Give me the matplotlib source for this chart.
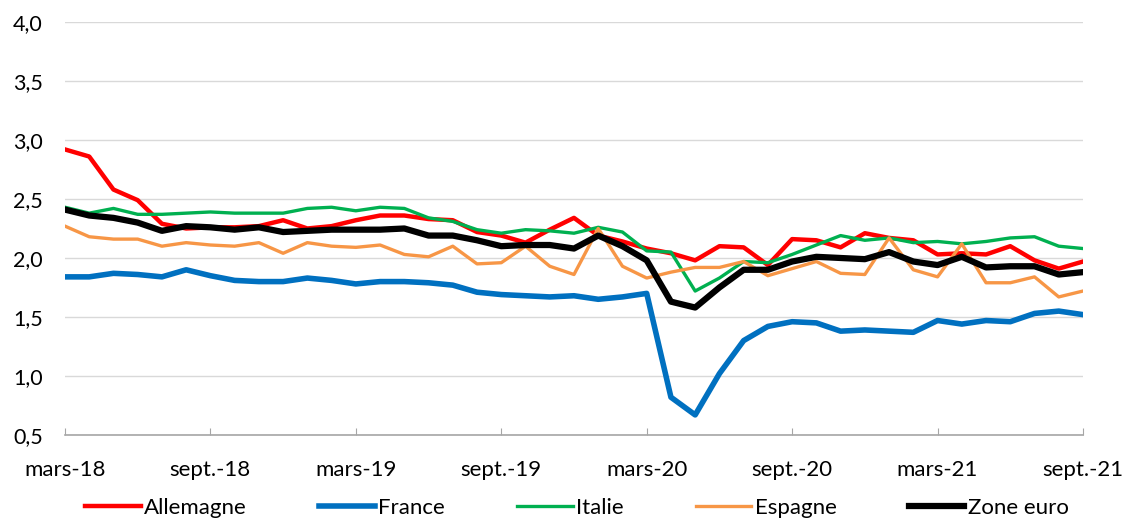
import matplotlib
matplotlib.use("Agg")
import matplotlib.pyplot as plt
import numpy as np

plt.rcParams['font.family'] = ['Lato', 'DejaVu Sans']

# monthly series, mars-18 .. sept.-21
allemagne = [2.92, 2.86, 2.58, 2.49, 2.29, 2.25, 2.26, 2.26, 2.27, 2.32, 2.25, 2.27, 2.32, 2.36,
             2.36, 2.33, 2.32, 2.22, 2.19, 2.13, 2.24, 2.34, 2.19, 2.14, 2.08, 2.04, 1.98, 2.10,
             2.09, 1.94, 2.16, 2.15, 2.09, 2.21, 2.17, 2.15, 2.03, 2.04, 2.03, 2.10, 1.98, 1.91, 1.97]
france = [1.84, 1.84, 1.87, 1.86, 1.84, 1.90, 1.85, 1.81, 1.80, 1.80, 1.83, 1.81, 1.78, 1.80,
          1.80, 1.79, 1.77, 1.71, 1.69, 1.68, 1.67, 1.68, 1.65, 1.67, 1.70, 0.82, 0.67, 1.02,
          1.30, 1.42, 1.46, 1.45, 1.38, 1.39, 1.38, 1.37, 1.47, 1.44, 1.47, 1.46, 1.53, 1.55, 1.52]
italie = [2.43, 2.38, 2.42, 2.37, 2.37, 2.38, 2.39, 2.38, 2.38, 2.38, 2.42, 2.43, 2.40, 2.43,
          2.42, 2.34, 2.31, 2.24, 2.21, 2.24, 2.23, 2.21, 2.26, 2.22, 2.06, 2.05, 1.72, 1.83,
          1.97, 1.96, 2.03, 2.11, 2.19, 2.15, 2.17, 2.13, 2.14, 2.12, 2.14, 2.17, 2.18, 2.10, 2.08]
espagne = [2.27, 2.18, 2.16, 2.16, 2.10, 2.13, 2.11, 2.10, 2.13, 2.04, 2.13, 2.10, 2.09, 2.11,
           2.03, 2.01, 2.10, 1.95, 1.96, 2.10, 1.93, 1.86, 2.25, 1.93, 1.83, 1.88, 1.92, 1.92,
           1.97, 1.85, 1.91, 1.97, 1.87, 1.86, 2.17, 1.90, 1.84, 2.12, 1.79, 1.79, 1.84, 1.67, 1.72]
zone_euro = [2.41, 2.36, 2.34, 2.30, 2.23, 2.27, 2.26, 2.24, 2.26, 2.22, 2.23, 2.24, 2.24, 2.24,
             2.25, 2.19, 2.19, 2.15, 2.10, 2.11, 2.11, 2.08, 2.19, 2.10, 1.98, 1.63, 1.58, 1.75,
             1.90, 1.90, 1.97, 2.01, 2.00, 1.99, 2.05, 1.97, 1.94, 2.01, 1.92, 1.93, 1.93, 1.86, 1.88]

tick_labels = ["mars-18", "sept.-18", "mars-19", "sept.-19",
               "mars-20", "sept.-20", "mars-21", "sept.-21"]
y_ticks = [0.5, 1.0, 1.5, 2.0, 2.5, 3.0, 3.5, 4.0]

months = np.arange(len(allemagne))

fig = plt.figure(figsize=(11.28, 5.2), dpi=100)
ax = fig.add_axes([0.0576, 0.1635, 0.9025, 0.7942])

ax.plot(months, allemagne, color="#FF0000", lw=3.2, label="Allemagne")
ax.plot(months, france, color="#0070C0", lw=4.0, label="France")
ax.plot(months, italie, color="#00B050", lw=2.4, label="Italie")
ax.plot(months, espagne, color="#F79646", lw=2.4, label="Espagne")
ax.plot(months, zone_euro, color="#000000", lw=4.5, label="Zone euro")

ax.set_xlim(0, len(allemagne) - 1)
ax.set_ylim(0.5, 4.0)
ax.set_yticks(y_ticks)
ax.set_yticklabels([f"{v:.1f}".replace(".", ",") for v in y_ticks])
ax.set_xticks(months[::6])
ax.set_xticklabels(tick_labels)

ax.grid(axis="y", color="#D9D9D9", lw=1)
ax.set_axisbelow(True)
for s in ["left", "right", "top"]:
    ax.spines[s].set_visible(False)
ax.spines["bottom"].set_color("#A6A6A6")
ax.spines["bottom"].set_linewidth(1.2)

ax.tick_params(axis="y", length=0, pad=16, labelsize=15.5)
ax.tick_params(axis="x", direction="in", length=5, color="#A6A6A6", pad=18, labelsize=16)

fig.legend(loc="center", bbox_to_anchor=(577 / 1128, 1 - 508 / 520), ncol=5, frameon=False,
           fontsize=16, handlelength=2.5, handletextpad=0.15, columnspacing=3.25)

fig.savefig("out.png", dpi=100)
